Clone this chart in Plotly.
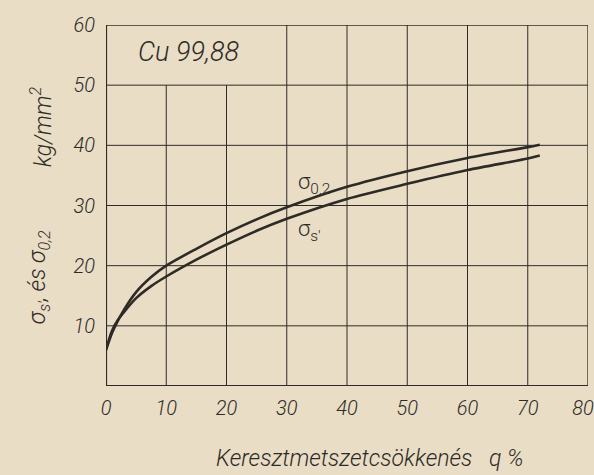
import plotly.graph_objects as go

# Data
reduction = [0, 1, 2, 3, 5, 7.5, 10, 15, 20, 25, 30, 40, 50, 60, 70, 72]
sigma_02 = [6.0, 8.8, 10.9, 12.7, 15.6, 18.1, 20.0, 22.8, 25.4, 27.7, 29.7, 33.1, 35.7, 37.9, 39.7, 40.1]
sigma_s = [6.0, 9.2, 11.0, 12.3, 14.6, 16.6, 18.2, 21.0, 23.5, 25.8, 27.8, 31.1, 33.6, 35.9, 37.8, 38.3]

x_ticks = [0, 10, 20, 30, 40, 50, 60, 70, 80]
x_labels = ["0", "10", "20", "30", "40", "50", "60", "70", "80\u2002"]
y_ticks = [0, 10, 20, 30, 40, 50, 60]

paper = "#e9ddc6"
ink = "#2e2b27"
FONT = "Roboto, Liberation Sans, DejaVu Sans"
W = 300

fig = go.Figure()
fig.add_trace(go.Scatter(x=reduction, y=sigma_02, mode="lines", line=dict(color=ink, width=2.6, shape="spline", smoothing=0.8), showlegend=False))
fig.add_trace(go.Scatter(x=reduction, y=sigma_s, mode="lines", line=dict(color=ink, width=2.6, shape="spline", smoothing=0.8), showlegend=False))

shapes = []
for yv in y_ticks[1:-1]:
    shapes.append(dict(type="line", xref="x", yref="y", x0=0, x1=80, y0=yv, y1=yv, line=dict(color=ink, width=1)))
for xv in x_ticks[1:-1]:
    top = 50 if xv < 30 else 60
    shapes.append(dict(type="line", xref="x", yref="y", x0=xv, x1=xv, y0=0, y1=top, line=dict(color=ink, width=1)))
shapes.append(dict(type="line", xref="x", yref="y", x0=0, x1=80, y0=60, y1=60, line=dict(color=ink, width=1.3)))
shapes.append(dict(type="line", xref="x", yref="y", x0=80, x1=80, y0=0, y1=60, line=dict(color=ink, width=1.3)))
shapes.append(dict(type="line", xref="x", yref="y", x0=0, x1=0, y0=0, y1=60, line=dict(color=ink, width=2.2)))
shapes.append(dict(type="line", xref="x", yref="y", x0=0, x1=80, y0=0, y1=0, line=dict(color=ink, width=2.2)))

fig.update_layout(
    width=594, height=475,
    margin=dict(l=106, r=6, t=25, b=89),
    paper_bgcolor=paper, plot_bgcolor=paper,
    shapes=shapes,
    font=dict(family=FONT, color=ink, weight=W),
    xaxis=dict(range=[0, 80], tickvals=x_ticks, ticktext=x_labels, showgrid=False, zeroline=False,
               showline=False, ticks="", ticklabelstandoff=8, ticklabeloverflow="allow", automargin=False,
               tickfont=dict(family=FONT, size=20, color=ink, style="italic", weight=W)),
    yaxis=dict(range=[0, 60], tickvals=y_ticks[1:], ticktext=[str(v) for v in y_ticks[1:]], showgrid=False, zeroline=False,
               showline=False, ticks="", ticklabelstandoff=10, ticklabeloverflow="allow", automargin=False,
               tickfont=dict(family=FONT, size=20, color=ink, style="italic", weight=W)),
    annotations=[
        dict(text="Cu 99,88", xref="x", yref="y", x=5.0, y=55.5, xanchor="left", yanchor="middle", showarrow=False,
             font=dict(family=FONT, size=27, color=ink, style="italic", weight=W)),
        dict(text="σ<sub>0,2</sub>", xref="x", yref="y", x=31.5, y=33.6, xanchor="left", yanchor="middle", showarrow=False,
             font=dict(family=FONT, size=22, color=ink, style="normal", weight=W)),
        dict(text="σ<sub>s'</sub>", xref="x", yref="y", x=31.5, y=25.9, xanchor="left", yanchor="middle", showarrow=False,
             font=dict(family=FONT, size=22, color=ink, style="normal", weight=W)),
        dict(text="Keresztmetszetcsökkenés   q %", xref="paper", yref="paper", x=0.546, y=-0.2, xanchor="center", yanchor="middle",
             showarrow=False, font=dict(family=FONT, size=23, color=ink, style="italic", weight=W)),
        dict(text="σ<sub>s'</sub>, és σ<sub>0,2</sub>", xref="paper", yref="paper", x=-0.14, y=0.30,
             xanchor="center", yanchor="middle", textangle=-90, showarrow=False,
             font=dict(family=FONT, size=23, color=ink, style="italic", weight=W)),
        dict(text="kg/mm<sup>2</sup>", xref="paper", yref="paper", x=-0.135, y=0.72,
             xanchor="center", yanchor="middle", textangle=-90, showarrow=False,
             font=dict(family=FONT, size=23, color=ink, style="italic", weight=W)),
    ],
)

fig.write_html("out.html")
